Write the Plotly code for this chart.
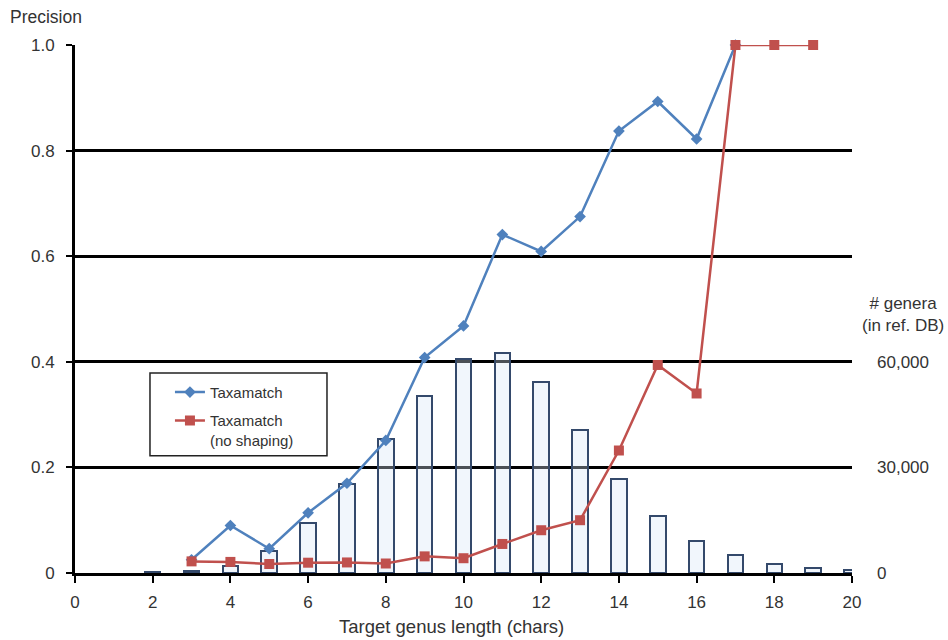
import plotly.graph_objects as go

# Target genus length (characters)
bar_lengths = list(range(2, 21))

# Number of genera in the reference DB per name length
genera_counts = [150, 450, 1880, 6140, 14200, 25300, 38200, 50200, 60900,
                 62400, 54300, 40500, 26700, 16100, 9200, 5000, 2650, 1450, 850]

# Precision per target length
taxamatch_x = list(range(3, 18))
taxamatch_prec = [0.025, 0.090, 0.046, 0.114, 0.170, 0.251, 0.408, 0.468,
                  0.641, 0.609, 0.675, 0.837, 0.893, 0.822, 1.0]

noshape_x = list(range(3, 20))
noshape_prec = [0.022, 0.021, 0.017, 0.0195, 0.020, 0.018, 0.0315, 0.028,
                0.055, 0.081, 0.100, 0.232, 0.394, 0.340, 1.0, 1.0, 1.0]

prec_ticks = [0, 0.2, 0.4, 0.6, 0.8, 1.0]
prec_ticktext = ["0", "0.2", "0.4", "0.6", "0.8", "1.0"]
x_ticks = list(range(0, 21, 2))
count_ticks = [0, 30000, 60000]
count_ticktext = ["0", "30,000", "60,000"]

FONT = "Liberation Sans, Arial, sans-serif"
TXT = "#333333"

fig = go.Figure()

# Histogram of genus name lengths (count axis, right side)
fig.add_trace(go.Bar(
    x=bar_lengths, y=genera_counts, yaxis="y", width=0.4,
    marker=dict(color="rgba(215,228,245,0.35)",
                line=dict(color="#34496b", width=2)),
    showlegend=False, hoverinfo="skip",
))

# Precision curves (precision axis, left side, drawn above the bars)
fig.add_trace(go.Scatter(
    x=taxamatch_x, y=taxamatch_prec, yaxis="y2", mode="lines+markers",
    name="Taxamatch", legendgroup="a",
    line=dict(color="#4F81BD", width=2.5),
    marker=dict(symbol="diamond", size=9, color="#4F81BD"),
    cliponaxis=False,
))

fig.add_trace(go.Scatter(
    x=noshape_x, y=noshape_prec, yaxis="y2", mode="lines+markers",
    name="Taxamatch<br>(no shaping)", legendgroup="b",
    line=dict(color="#C0504D", width=2.5),
    marker=dict(symbol="square", size=10, color="#C0504D"),
    cliponaxis=False,
))

fig.update_layout(
    width=948, height=640,
    margin=dict(l=75, r=96, t=45, b=67),
    paper_bgcolor="white", plot_bgcolor="white",
    font=dict(family=FONT, size=17, color=TXT),
    bargap=0,
    xaxis=dict(
        range=[0, 20], tickvals=x_ticks, ticks="outside", ticklen=7,
        tickwidth=2, tickcolor="black", showline=True, linecolor="black",
        linewidth=3, showgrid=False, zeroline=False, ticklabelstandoff=5,
        tickfont=dict(size=17, color=TXT),
    ),
    yaxis=dict(
        range=[0, 150000], side="right", tickvals=count_ticks,
        ticktext=count_ticktext, showgrid=False, zeroline=False,
        showline=False, ticks="", ticklabelstandoff=24,
        tickfont=dict(size=17, color=TXT),
    ),
    yaxis2=dict(
        range=[0, 1], overlaying="y", side="left", tickvals=prec_ticks,
        ticktext=prec_ticktext, ticks="outside", ticklen=6, tickwidth=2,
        tickcolor="black", showline=True, linecolor="black", linewidth=3,
        showgrid=True, gridcolor="black", gridwidth=2.8, zeroline=False,
        ticklabelstandoff=8, tickfont=dict(size=17, color=TXT),
    ),
    legend=dict(
        x=0.1222, y=0.3735, xanchor="left", yanchor="top",
        bgcolor="rgba(0,0,0,0)", borderwidth=0, valign="top",
        font=dict(size=15, color=TXT), tracegroupgap=6,
    ),
    shapes=[
        # legend frame
        dict(type="rect", xref="paper", yref="paper",
             x0=0.0965, x1=0.3243, y0=0.222, y1=0.379,
             line=dict(color="#222222", width=1.5), fillcolor="white",
             layer="below"),
    ],
    annotations=[
        dict(text="Precision", xref="paper", yref="paper", x=-0.086,
             y=1.0, yshift=28, xanchor="left", yanchor="middle",
             showarrow=False, font=dict(size=17.5, color=TXT)),
        dict(text="Target genus length (chars)", xref="x", yref="paper",
             x=9.7, y=0, yshift=-53, xanchor="center", yanchor="middle",
             showarrow=False, font=dict(size=18.5, color=TXT)),
        dict(text="# genera<br>(in ref. DB)", xref="paper", yref="paper",
             x=1.0, xshift=51, y=0.49, xanchor="center", yanchor="middle",
             showarrow=False, font=dict(size=17, color=TXT)),
    ],
)

fig.write_html("out.html")
